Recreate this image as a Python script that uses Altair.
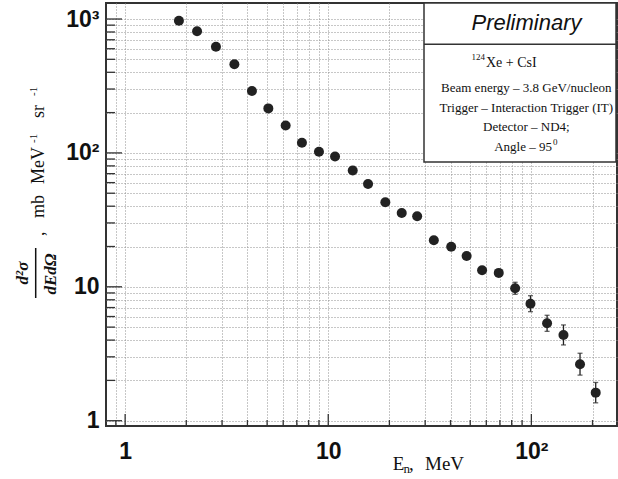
import altair as alt
import pandas as pd

# ---------------- data ----------------
energy_mev = [1.84, 2.26, 2.80, 3.45, 4.21, 5.07, 6.17, 7.42, 9.0, 10.8, 13.2, 15.7,
              19.1, 23.0, 27.4, 33.1, 40.3, 48.0, 57.2, 69.1, 83.2, 99.0, 119.5,
              143.9, 173.6, 207.4]
cross_section = [971, 809, 621, 459, 290, 215, 160, 119, 102, 94, 74, 58.6,
                 42.8, 35.6, 33.6, 22.3, 19.9, 17.0, 13.3, 12.7, 9.75, 7.48, 5.34,
                 4.37, 2.64, 1.62]
err_low = [960, 800, 614, 454, 287, 213, 158, 117.5, 100.5, 92.5, 72.8, 57.6,
           42.0, 34.9, 32.9, 21.8, 19.4, 16.5, 12.8, 12.1, 8.79, 6.52, 4.65,
           3.68, 2.19, 1.36]
err_high = [982, 818, 628, 464, 293, 217, 162, 120.5, 103.5, 95.5, 75.2, 59.6,
            43.6, 36.3, 34.3, 22.8, 20.4, 17.5, 13.8, 13.3, 10.81, 8.58, 6.13,
            5.19, 3.19, 1.93]

x_major = [1, 10, 100]
x_minor = [0.9, 2, 3, 4, 5, 6, 7, 8, 9, 20, 30, 40, 50, 60, 70, 80, 90, 200]
y_major = [1, 10, 100, 1000]
y_minor = [2, 3, 4, 5, 6, 7, 8, 9, 20, 30, 40, 50, 60, 70, 80, 90,
           200, 300, 400, 500, 600, 700, 800, 900]

x_domain = [0.805, 264]
y_domain = [0.913, 1317]

box_title = "Preliminary"
box_lines = ["Beam energy \u2013 3.8 GeV/nucleon",
             "Trigger \u2013 Interaction Trigger (IT)",
             "Detector \u2013 ND4;"]
reaction_sup, reaction_main = "124", "Xe + CsI"
angle_main, angle_sup = "Angle \u2013 95", "0"

# ---------------- layout ----------------
W, H = 511, 423          # plot area
L, T = 106, 3            # left / top padding

xs = alt.Scale(type="log", domain=x_domain, nice=False)
ys = alt.Scale(type="log", domain=y_domain, nice=False)

df = pd.DataFrame({"E": energy_mev, "S": cross_section, "lo": err_low, "hi": err_high})

axis_common = dict(grid=True, gridColor="#8f8f8f", gridDash=[1, 2], gridWidth=1,
                   ticks=False, tickSize=0, domain=False,
                   labelFont="Liberation Sans", labelFontWeight="bold",
                   labelFontSize=23, labelColor="#111",
                   labelOverlap=False, labelFlush=False, labelBound=False, title=None)

x_label_expr = ("datum.value == 1 ? '1' : datum.value == 10 ? '10' : "
                "datum.value == 100 ? '10\u00b2' : ''")
y_label_expr = ("datum.value == 1 ? '1' : datum.value == 10 ? '10' : "
                "datum.value == 100 ? '10\u00b2' : datum.value == 1000 ? '10\u00b3' : ''")

x_axis = alt.Axis(values=sorted(x_major + x_minor), labelExpr=x_label_expr,
                  labelPadding=14, **axis_common)
y_axis = alt.Axis(values=sorted(y_major + y_minor), labelExpr=y_label_expr,
                  labelPadding=7, **axis_common)


def X(field):
    return alt.X(field, scale=xs, axis=x_axis)


def Y(field):
    return alt.Y(field, scale=ys, axis=y_axis)


points = alt.Chart(df).mark_circle(size=100, color="#222", opacity=1).encode(
    x=X("E:Q"), y=Y("S:Q"))

bars = alt.Chart(df).mark_rule(color="#222", strokeWidth=1.3).encode(
    x=X("E:Q"), y=Y("lo:Q"), y2="hi:Q")
cap_lo = alt.Chart(df).mark_tick(color="#222", orient="horizontal", size=5, thickness=1.3).encode(
    x=X("E:Q"), y=Y("lo:Q"))
cap_hi = alt.Chart(df).mark_tick(color="#222", orient="horizontal", size=5, thickness=1.3).encode(
    x=X("E:Q"), y=Y("hi:Q"))


def xticks(vals, length):
    return alt.Chart(pd.DataFrame({"v": vals})).mark_rule(color="#333", strokeWidth=1.3).encode(
        x=X("v:Q"), y=alt.value(H), y2=alt.value(H - length))


def yticks(vals, length):
    return alt.Chart(pd.DataFrame({"v": vals})).mark_rule(color="#333", strokeWidth=1.3).encode(
        y=Y("v:Q"), x=alt.value(0), x2=alt.value(length))


def txt(s, x, y, size, font="Liberation Serif", style="normal", weight="normal",
        align="center", baseline="alphabetic", angle=0, color="#111"):
    return alt.Chart(pd.DataFrame({"t": [s]})).mark_text(
        font=font, fontSize=size, fontStyle=style, fontWeight=weight, align=align,
        baseline=baseline, angle=angle, color=color).encode(
        text="t:N", x=alt.value(x - L), y=alt.value(y - T))


# legend box
box = alt.Chart(pd.DataFrame({"a": [0]})).mark_rect(
    fill="white", stroke="#333", strokeWidth=1.5).encode(
    x=alt.value(424 - L), x2=alt.value(616 - L), y=alt.value(0), y2=alt.value(162 - T))
box_sep = alt.Chart(pd.DataFrame({"a": [0]})).mark_rule(color="#333", strokeWidth=1.5).encode(
    x=alt.value(424 - L), x2=alt.value(616 - L), y=alt.value(44.3 - T))

layers = [points, bars, cap_lo, cap_hi,
          xticks(x_major, 12), xticks(x_minor, 6),
          yticks(y_major, 16), yticks(y_minor, 9),
          box, box_sep,
          txt(box_title, 526.5, 30, 22, font="Liberation Sans", style="italic"),
          txt(reaction_sup, 485, 60, 9, align="right"),
          txt(reaction_main, 486, 66.5, 14, align="left")]
for i, line in enumerate(box_lines):
    layers.append(txt(line, 526.3, 91.7 + 19.8 * i, 13))
layers += [txt(angle_main, 552, 150.5, 13, align="right"),
           txt(angle_sup, 553, 145, 9, align="left")]

# x title: E_n,  MeV
layers += [txt("E", 392.7, 469.5, 19, align="left"),
           txt("n", 403.5, 472.5, 13, align="left"),
           txt(",", 409, 469.5, 19, align="left"),
           txt("MeV", 425, 469.5, 19, align="left")]

# y title: fraction d2sigma / dE dOmega , mb MeV-1 sr-1 (rotated)
frac_bar = alt.Chart(pd.DataFrame({"a": [0]})).mark_rule(color="#111", strokeWidth=1.5).encode(
    x=alt.value(35.7 - L), y=alt.value(248 - T), y2=alt.value(298 - T))
layers += [txt("d\u00b2\u03c3", 28, 273, 17, style="italic", weight="bold", angle=270),
           frac_bar,
           txt("dEd\u03a9", 55.5, 274, 17, style="italic", weight="bold", angle=270),
           txt(",", 44, 236, 18, align="left", angle=270),
           txt("mb", 44, 218, 18, align="left", angle=270),
           txt("MeV", 44, 184, 18, align="left", angle=270),
           txt("-1", 37, 143, 11, align="left", angle=270),
           txt("sr", 44, 118, 18, align="left", angle=270),
           txt("-1", 37, 96, 11, align="left", angle=270)]

chart = alt.layer(*layers).properties(
    width=W, height=H,
    autosize=alt.AutoSizeParams(type="none"),
    padding={"left": L, "top": T, "right": 1, "bottom": 53},
    background="white",
).configure_view(stroke="#333", strokeWidth=2)

chart.save("out.html", embed_options={"renderer": "svg", "actions": False})
